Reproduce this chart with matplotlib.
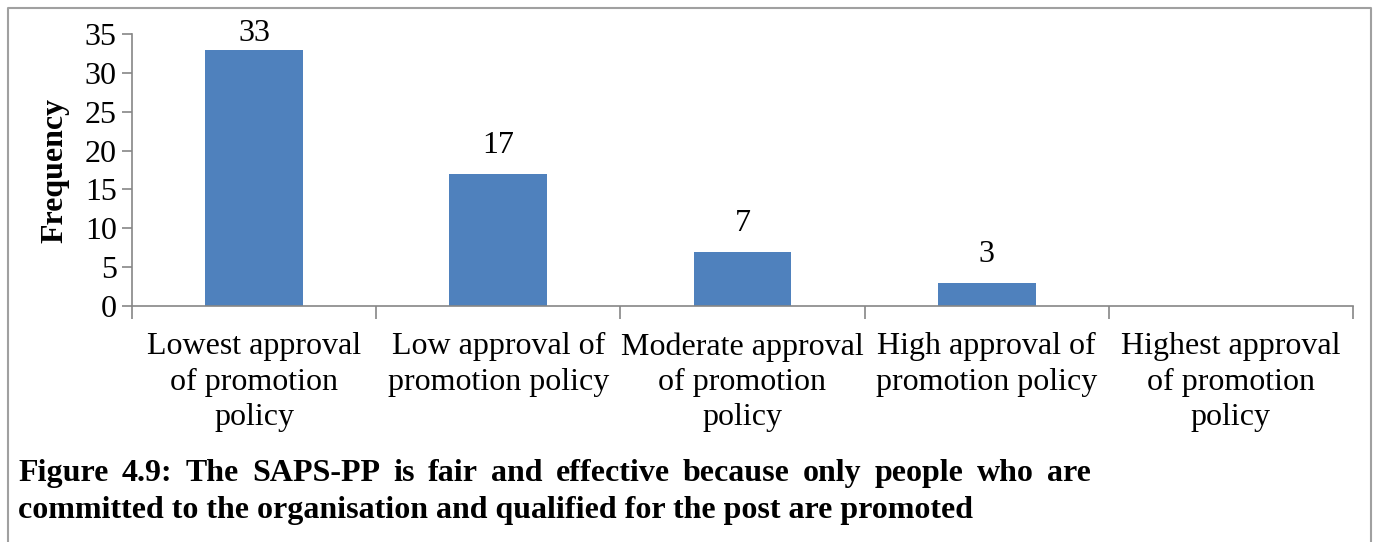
import matplotlib
matplotlib.use('Agg')
import matplotlib.pyplot as plt
from matplotlib.lines import Line2D

plt.rcParams['font.family'] = ['Liberation Serif', 'DejaVu Serif']

categories = ['Lowest approval\nof promotion\npolicy',
              'Low approval of\npromotion policy',
              'Moderate approval\nof promotion\npolicy',
              'High approval of\npromotion policy',
              'Highest approval\nof promotion\npolicy']
frequency = [33, 17, 7, 3, 0]
caption_lines = ['Figure 4.9: The SAPS-PP is fair and effective because only people who are',
                 'committed to the organisation and qualified for the post are promoted']

W, H = 1379, 542
fs = 23
ymax = 35
fig = plt.figure(figsize=(W / 100, H / 100), dpi=100)
ax = fig.add_axes([132 / W, 1 - 306 / H, (1353 - 132) / W, (306 - 34) / H])

grey = '#868686'
x = range(len(categories))
bars = ax.bar(x, frequency, width=0.4, color='#4F81BD')
for xi, v in zip(x, frequency):
    if v > 0:
        # labels near the top get pushed down, like Excel does
        off = 10 if v < 0.9 * ymax else 1
        ax.annotate(str(v), (xi, v), xytext=(0, off), textcoords='offset points',
                    ha='center', va='bottom', fontsize=fs)

ax.set_xlim(-0.5, len(categories) - 0.5)
ax.set_ylim(0, ymax)
ax.set_yticks(range(0, ymax + 1, 5))
ax.set_xticks(list(x))
ax.set_xticklabels(categories, fontsize=fs, linespacing=1.28)
ax.set_xticks([i - 0.5 for i in range(len(categories) + 1)], minor=True)
ax.tick_params(axis='x', which='major', length=0, pad=19)
ax.tick_params(axis='x', which='minor', length=9, color=grey, width=1.2)
ax.tick_params(axis='y', labelsize=fs, length=7, color=grey, width=1.2, pad=4)
for s in ['top', 'right']:
    ax.spines[s].set_visible(False)
for s in ['left', 'bottom']:
    ax.spines[s].set_color(grey)
    ax.spines[s].set_linewidth(1.2)
ax.set_ylabel('Frequency', fontsize=fs, fontweight='bold', labelpad=11)

# border around the figure (no bottom edge)
bx0, bx1, by0 = 8 / W, 1371 / W, 1 - 8 / H
fig.add_artist(Line2D([bx0, bx0, bx1, bx1], [0, by0, by0, 0], color='#A0A0A0', lw=1.5))

# justified first caption line, plain second line
fig.canvas.draw()
r = fig.canvas.get_renderer()
left_px, right_px = 18, 1091
words = caption_lines[0].split(' ')
texts = [fig.text(0, 0, w, fontsize=fs, fontweight='bold') for w in words]
widths = [t.get_window_extent(r).width for t in texts]
gap = (right_px - left_px - sum(widths)) / (len(words) - 1)
pos = left_px
for t, w in zip(texts, widths):
    t.set_position((pos / W, 1 - 481 / H))
    pos += w + gap
fig.text(left_px / W, 1 - 518 / H, caption_lines[1], fontsize=fs, fontweight='bold')

fig.savefig('out.png', dpi=100)
